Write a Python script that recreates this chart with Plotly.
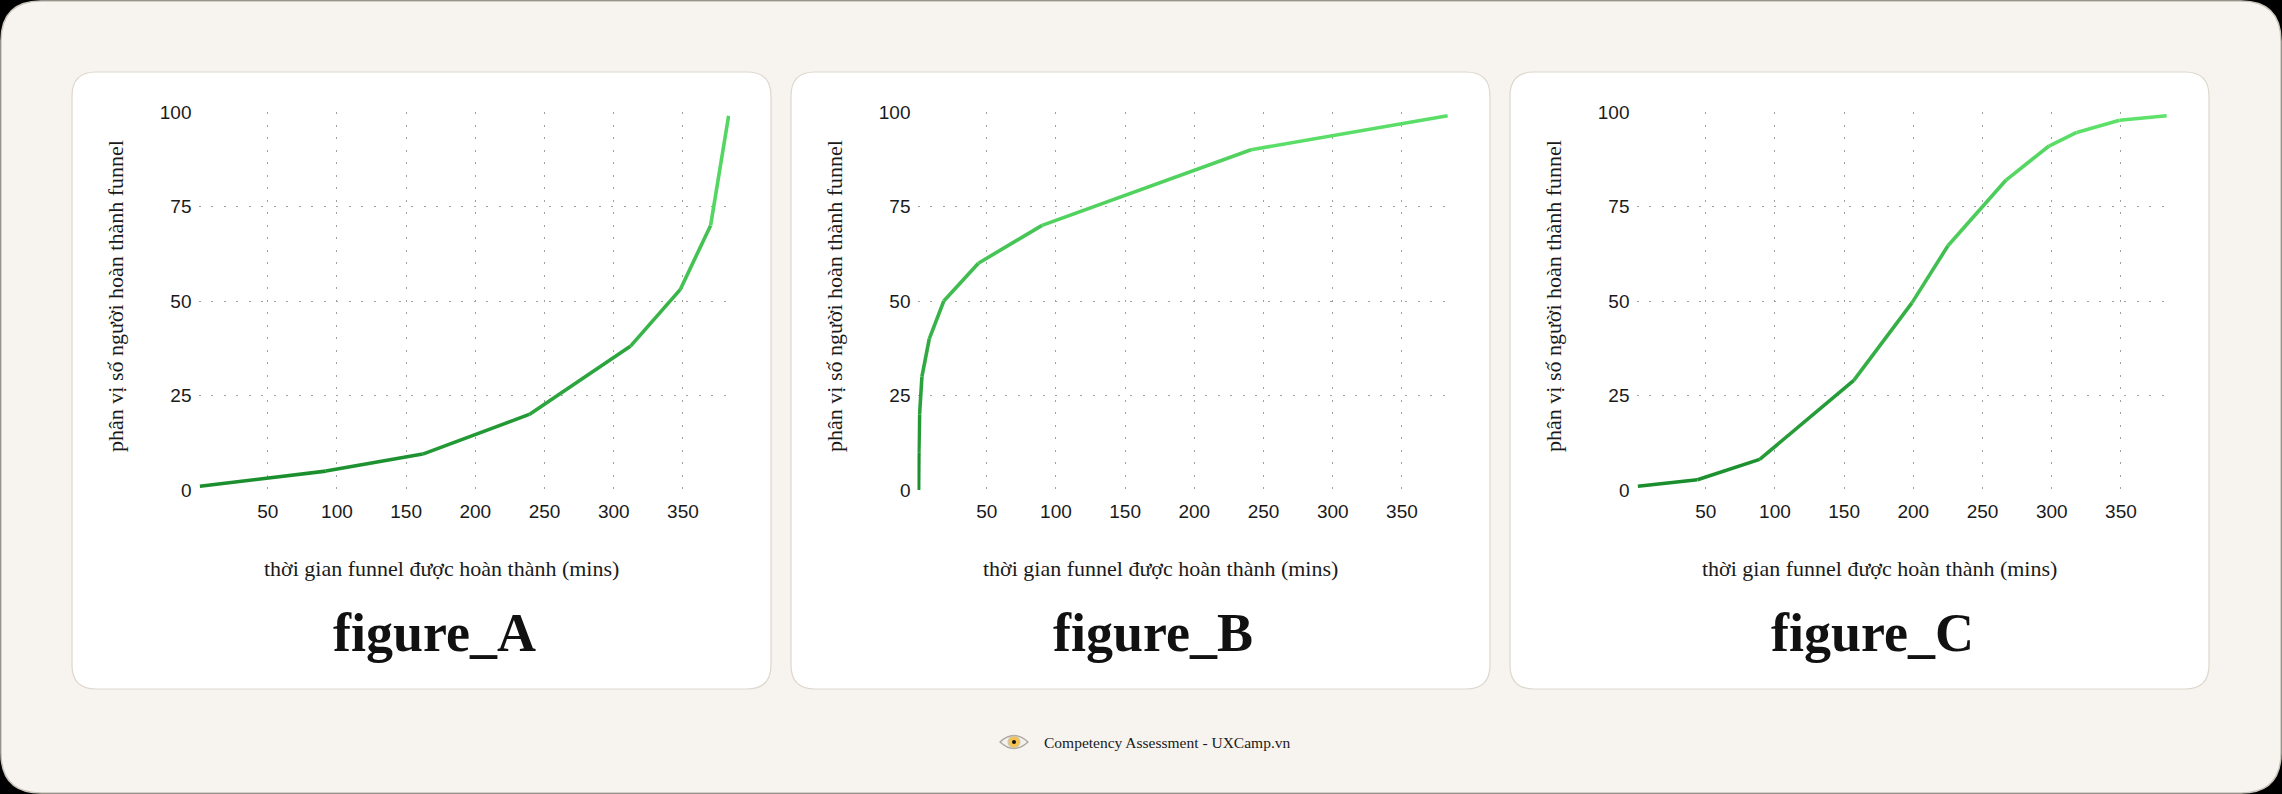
import plotly.graph_objects as go

# data
x_ticks = [50, 100, 150, 200, 250, 300, 350]
y_ticks = [0, 25, 50, 75, 100]

a_x = [1, 92, 162, 239, 312, 348, 370, 383]
a_y = [1, 5, 9.5, 20, 38, 53, 70, 99]

b_x = [0.8, 1, 1.5, 3.2, 8.5, 19, 44, 90, 241, 383]
b_y = [0, 10, 20, 30, 40, 50, 60, 70, 90, 99]

c_x = [1, 44, 89, 157, 199, 225, 267, 298, 318, 349, 383]
c_y = [1, 2.7, 8.1, 29, 49.5, 64.6, 82, 91, 94.6, 97.8, 99]

names = ["figure_A", "figure_B", "figure_C"]
x_title = "thời gian funnel được hoàn thành (mins)"
y_title = "phân vị số người hoàn thành funnel"
footer = "Competency Assessment - UXCamp.vn"

W, H = 2282, 794
panel_left = [72, 791, 1510]
panel_top, panel_w, panel_h = 72, 699, 617
plot_dx, plot_w = 126.5, 531.5
plot_top, plot_bot = 112, 490

dark = (25, 140, 44)
light = (95, 227, 108)


def px(x):
    return x / W


def py(y):
    return 1 - y / H


def rrect(x0, y0, x1, y1, r):
    # rounded rectangle in pixels (from top-left), drawn in paper coords
    rx, ry = r / W, r / H
    X0, X1, Y0, Y1 = px(x0), px(x1), py(y0), py(y1)
    return (f"M {X0+rx},{Y0} L {X1-rx},{Y0} Q {X1},{Y0} {X1},{Y0-ry} "
            f"L {X1},{Y1+ry} Q {X1},{Y1} {X1-rx},{Y1} L {X0+rx},{Y1} "
            f"Q {X0},{Y1} {X0},{Y1+ry} L {X0},{Y0-ry} Q {X0},{Y0} {X0+rx},{Y0} Z")


def mix(t):
    t = max(0, min(1, t))
    c = [round(dark[i] + (light[i] - dark[i]) * t) for i in range(3)]
    return f"rgb({c[0]},{c[1]},{c[2]})"


fig = go.Figure()
shapes = []
annotations = []

shapes.append(dict(type="path", path=rrect(1, 1, W - 1, H - 1, 40), xref="paper", yref="paper",
                   fillcolor="#f7f4ef", line=dict(color="#c9c3ba", width=1.5), layer="below"))

series = [(a_x, a_y), (b_x, b_y), (c_x, c_y)]
for k, (xs, ys) in enumerate(series):
    left = panel_left[k]
    shapes.append(dict(type="path", path=rrect(left, panel_top, left + panel_w, panel_top + panel_h, 24),
                       xref="paper", yref="paper", fillcolor="white",
                       line=dict(color="#ddd7cd", width=1.2), layer="below"))
    xa = "x" if k == 0 else f"x{k+1}"
    ya = "y" if k == 0 else f"y{k+1}"
    axis = dict(showgrid=True, gridcolor="#a0a0a0", griddash="2px,10.5px", gridwidth=1.2,
                zeroline=False, showline=False, ticks="", automargin=False,
                tickfont=dict(family="Liberation Sans, Arial", size=19, color="#1a1a1a"))
    fig.update_layout(**{
        ("xaxis" if k == 0 else f"xaxis{k+1}"): dict(
            axis, domain=[px(left + plot_dx), px(left + plot_dx + plot_w)],
            range=[0, 384], tickvals=x_ticks, anchor=ya, ticklabelstandoff=8),
        ("yaxis" if k == 0 else f"yaxis{k+1}"): dict(
            axis, domain=[py(plot_bot), py(plot_top)],
            range=[0, 100], tickvals=y_ticks, anchor=xa, ticklabelstandoff=6),
    })
    # one trace per segment so the line fades from dark to light green
    for i in range(len(xs) - 1):
        fig.add_trace(go.Scatter(x=xs[i:i + 2], y=ys[i:i + 2], mode="lines", xaxis=xa, yaxis=ya,
                                 line=dict(color=mix((ys[i] + ys[i + 1]) / 200), width=3.6),
                                 hoverinfo="skip", showlegend=False))

    annotations.append(dict(text=x_title, x=px(left + 369), y=py(568), xref="paper", yref="paper",
                            showarrow=False, xanchor="center", yanchor="middle",
                            font=dict(family="Liberation Serif", size=22, color="#1a1a1a")))
    annotations.append(dict(text=y_title, x=px(left + 43), y=py(296), xref="paper", yref="paper",
                            showarrow=False, textangle=-90, xanchor="center", yanchor="middle",
                            font=dict(family="Liberation Serif", size=22, color="#1a1a1a")))
    annotations.append(dict(text="<b>" + names[k] + "</b>", x=px(left + 362), y=py(633),
                            xref="paper", yref="paper", showarrow=False,
                            xanchor="center", yanchor="middle",
                            font=dict(family="Liberation Serif", size=54, color="#111111")))

# footer eye icon
ex, ey = 1014, 742
eye = (f"M {px(ex-14)},{py(ey)} Q {px(ex)},{py(ey-13)} {px(ex+14)},{py(ey)} "
       f"Q {px(ex)},{py(ey+13)} {px(ex-14)},{py(ey)} Z")
shapes.append(dict(type="path", path=eye, xref="paper", yref="paper",
                   fillcolor="#f4f1ec", line=dict(color="#a9a49c", width=1.2)))
shapes.append(dict(type="circle", xref="paper", yref="paper", x0=px(ex-6), x1=px(ex+6),
                   y0=py(ey+6), y1=py(ey-6), fillcolor="#f3c453", line=dict(color="#c9c3ba", width=1)))
shapes.append(dict(type="circle", xref="paper", yref="paper", x0=px(ex-2), x1=px(ex+2),
                   y0=py(ey+2), y1=py(ey-2), fillcolor="#111111", line=dict(width=0)))
annotations.append(dict(text=footer, x=px(1042), y=py(742), xref="paper", yref="paper",
                        showarrow=False, xanchor="left", yanchor="middle",
                        font=dict(family="Liberation Serif", size=15.5, color="#1a1a1a")))

fig.update_layout(width=W, height=H, margin=dict(l=0, r=0, t=0, b=0, pad=0, autoexpand=False),
                  paper_bgcolor="black", plot_bgcolor="rgba(0,0,0,0)",
                  shapes=shapes, annotations=annotations, showlegend=False)

fig.write_html("out.html", config={"displayModeBar": False},
               post_script="document.body.style.margin='0';document.body.style.background='black';")
